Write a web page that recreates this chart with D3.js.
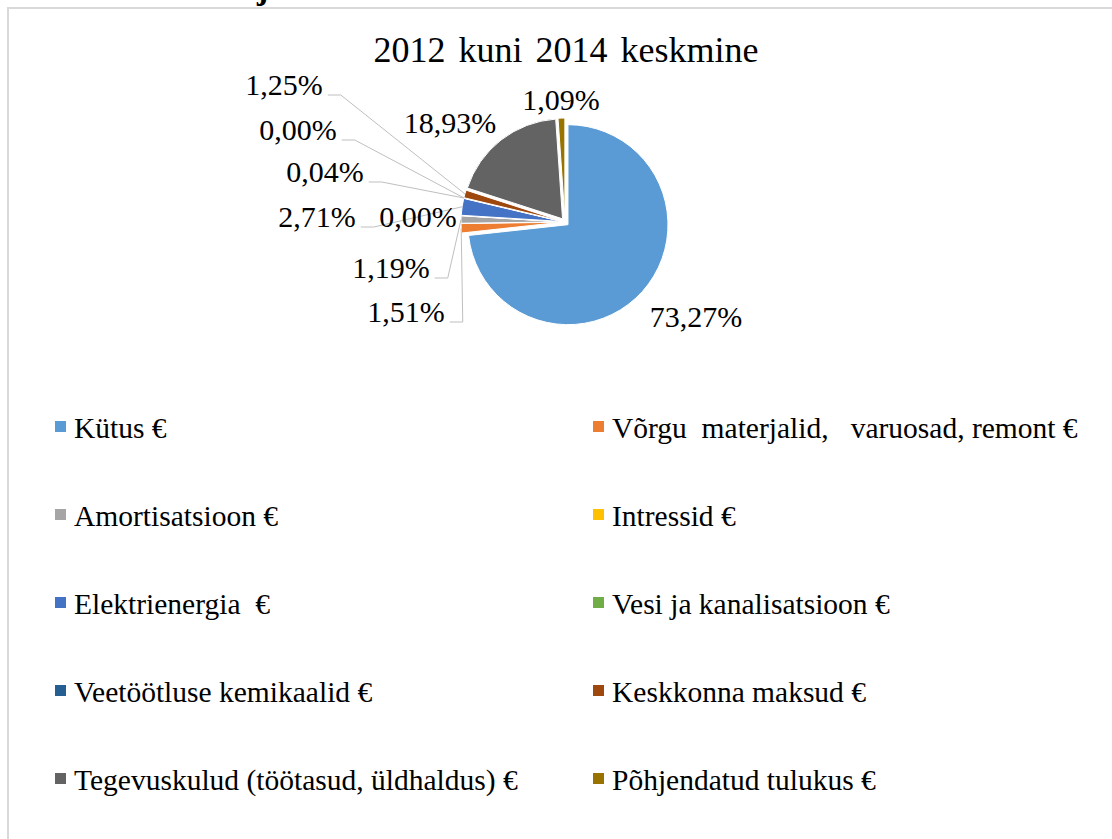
<!DOCTYPE html>
<html>
<head>
<meta charset="utf-8">
<script src="https://cdn.jsdelivr.net/npm/d3@7"></script>
<style>
  body { margin: 0; background: #ffffff; }
  svg { display: block; }
</style>
</head>
<body>
<svg id="chart" width="1112" height="839"></svg>
<script>
// --- data ---
const title = '2012 kuni 2014 keskmine';
const categories = [
  'Kütus €',
  'Võrgu  materjalid,   varuosad, remont €',
  'Amortisatsioon €',
  'Intressid €',
  'Elektrienergia  €',
  'Vesi ja kanalisatsioon €',
  'Veetöötluse kemikaalid €',
  'Keskkonna maksud €',
  'Tegevuskulud (töötasud, üldhaldus) €',
  'Põhjendatud tulukus €'
];
const shares = [73.27, 1.51, 1.19, 0.00, 2.71, 0.04, 0.00, 1.25, 18.93, 1.09];
const sliceColors = ['#5b9bd5', '#ed7d31', '#a5a5a5', '#ffc000', '#4472c4',
                     '#70ad47', '#255e91', '#9e480e', '#636363', '#997300'];

// label placement (offset of label centre from pie centre) and leader line flags
const labelOffsets = [[131, 95], [-159, 90], [-174, 46], [-147, -5], [-248, -5],
                      [-240, -50], [-267, -92], [-281, -137], [-115, -99], [-4, -122]];
const hasLeader = [false, true, true, false, true, true, true, true, false, false];

const serif = '"Liberation Serif", "Times New Roman", Times, serif';
const svg = d3.select('#chart').style('font-family', serif);
const cx = 565, cy = 222, radius = 100, explode = 4;

// chart frame (runs off the right and bottom edge of the picture)
svg.append('rect')
  .attr('x', 8).attr('y', 8)
  .attr('width', 1140).attr('height', 870)
  .attr('fill', 'none')
  .attr('stroke', '#d9d9d9')
  .attr('stroke-width', 2);

// descender of the cropped heading above the chart
svg.append('text')
  .attr('x', 257).attr('y', -1)
  .attr('font-family', serif)
  .attr('font-size', 34)
  .attr('font-weight', 'bold')
  .text('j');

svg.append('text')
  .attr('x', 566).attr('y', 62)
  .attr('text-anchor', 'middle')
  .attr('font-family', serif)
  .attr('font-size', 36)
  .style('word-spacing', '4px')
  .text(title);

const data = categories.map((c, i) => ({ name: c, share: shares[i], color: sliceColors[i], i }));
const pie = d3.pie().sort(null).value(d => d.share);
const arcs = pie(data);
const arc = d3.arc().innerRadius(0).outerRadius(radius);

const dir = a => [Math.sin(a), -Math.cos(a)];
const midAngle = d => (d.startAngle + d.endAngle) / 2;

const pieG = svg.append('g').attr('transform', `translate(${cx},${cy})`);
pieG.selectAll('path')
  .data(arcs)
  .join('path')
    .attr('d', arc)
    .attr('transform', d => {
      const [dx, dy] = dir(midAngle(d));
      return `translate(${dx * explode},${dy * explode})`;
    })
    .attr('fill', d => d.data.color)
    .attr('stroke', '#ffffff')
    .attr('stroke-width', 1);

// data labels
const locale = d3.formatLocale({ decimal: ',', thousands: ' ', grouping: [3], currency: ['', '€'] });
const fmt = locale.format('.2f');
const fontSize = 30;

const labelG = svg.append('g');
arcs.forEach((d, i) => {
  const lx = cx + labelOffsets[i][0];
  const ly = cy + labelOffsets[i][1];
  const t = labelG.append('text')
    .attr('x', lx).attr('y', ly + 10)
    .attr('text-anchor', 'middle')
    .attr('font-family', serif)
    .attr('font-size', fontSize)
    .text(fmt(d.data.share) + '%');
  if (hasLeader[i]) {
    const w = t.node().getComputedTextLength();
    const x0 = lx + w / 2 + 5;
    const y0 = ly + 10;
    const [ux, uy] = dir(midAngle(d));
    const ex = cx + ux * (radius + explode);
    const ey = cy + uy * (radius + explode);
    labelG.insert('polyline', 'text')
      .attr('points', [[x0, y0], [x0 + 13, y0], [ex, ey]].map(p => p.join(',')).join(' '))
      .attr('fill', 'none')
      .attr('stroke', '#bfbfbf')
      .attr('stroke-width', 1);
  }
});

// legend: two columns, five rows
const legendCols = [55, 593];
const legendY0 = 438, legendStep = 88;
const legendG = svg.append('g');
data.forEach((d, i) => {
  const col = i % 2, row = Math.floor(i / 2);
  const x = legendCols[col], y = legendY0 + row * legendStep;
  legendG.append('rect')
    .attr('x', x).attr('y', y - 17)
    .attr('width', 11).attr('height', 11)
    .attr('fill', d.color);
  legendG.append('text')
    .attr('x', x + 19).attr('y', y)
    .attr('font-family', serif)
    .attr('font-size', 29.5)
    .style('white-space', 'pre')
    .text(d.name);
});
</script>
</body>
</html>
